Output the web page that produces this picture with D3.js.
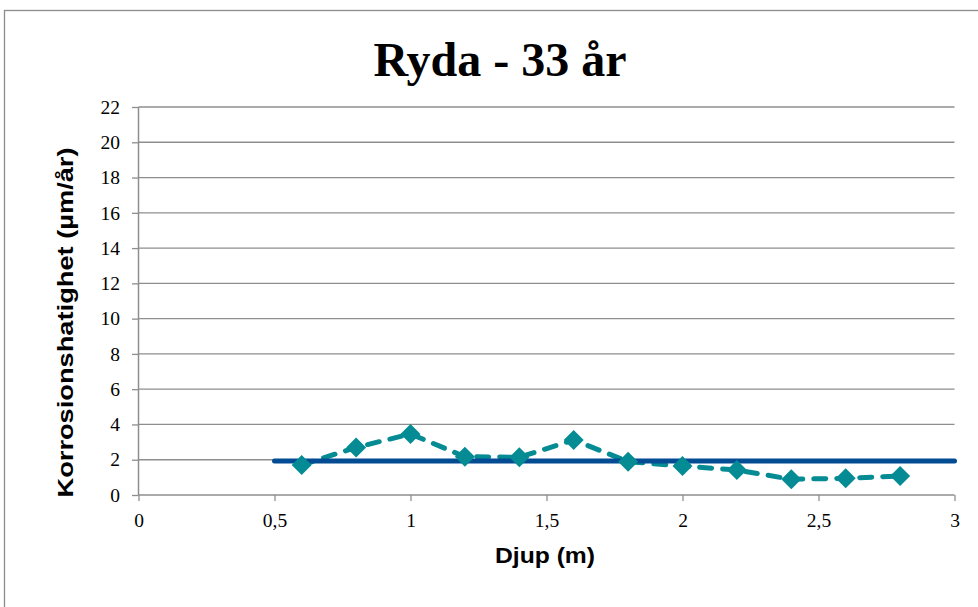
<!DOCTYPE html>
<html>
<head>
<meta charset="utf-8">
<script src="https://cdn.jsdelivr.net/npm/d3@7"></script>
<style>
  html, body { margin: 0; padding: 0; background: #fff; }
  svg { display: block; }
  .axis text { font-family: "Liberation Serif", "Times New Roman", serif; font-size: 19.5px; fill: #000; }
</style>
</head>
<body>
<svg id="chart" width="978" height="607"></svg>
<script>
// Corrosion rate per depth, Ryda site after 33 years
const depths = [0.6, 0.8, 1.0, 1.2, 1.4, 1.6, 1.8, 2.0, 2.2, 2.4, 2.6, 2.8];
const rates  = [1.70, 2.70, 3.46, 2.17, 2.14, 3.12, 1.89, 1.64, 1.42, 0.89, 0.95, 1.08];
const meanSpan = [0.5, 3];
const meanRate = d3.mean(rates);
const xTicks = [0, 0.5, 1, 1.5, 2, 2.5, 3];
const yTicks = [0, 2, 4, 6, 8, 10, 12, 14, 16, 18, 20, 22];
const titleText = "Ryda - 33 år";
const xTitle = "Djup (m)";
const yTitle = "Korrosionshatighet (µm/år)";

const svg = d3.select("#chart");
const plotL = 138.5, plotR = 954.5, plotT = 107, plotB = 495;
const serif = "'Liberation Serif', 'Times New Roman', serif";

const x = d3.scaleLinear().domain([0, 3]).range([plotL, plotR]);
const y = d3.scaleLinear().domain([0, 22]).range([plotB, plotT]);

// Chart area frame
svg.append("rect").attr("x", 4.5).attr("y", 10.5).attr("width", 1000).attr("height", 700)
  .attr("fill", "#fff").attr("stroke", "#8c8c8c").attr("stroke-width", 1.3);

// Title
svg.append("text").attr("x", 500).attr("y", 76).attr("text-anchor", "middle")
  .attr("font-family", serif)
  .attr("font-weight", "bold").attr("font-size", 48).attr("fill", "#000")
  .text(titleText);

// Horizontal gridlines
svg.append("g").selectAll("line").data(yTicks.filter(d => d > 0)).join("line")
  .attr("x1", plotL).attr("x2", plotR)
  .attr("y1", d => y(d)).attr("y2", d => y(d))
  .attr("stroke", "#8e8e8e").attr("stroke-width", 1.3);

// Y axis
const yAxis = svg.append("g").attr("class", "axis").attr("transform", `translate(${plotL},0)`)
  .call(d3.axisLeft(y).tickValues(yTicks).tickSize(6.5).tickPadding(12).tickFormat(d3.format("d")))
  .attr("font-family", serif).attr("font-size", 19.5);
yAxis.select(".domain").attr("stroke", "#8e8e8e").attr("stroke-width", 1.5).attr("d", `M0,${plotB}V${plotT}`);
yAxis.selectAll(".tick line").attr("stroke", "#8e8e8e").attr("stroke-width", 1.3);

// X axis
const fmtX = d => d3.format("")(d).replace(".", ",");
const xAxis = svg.append("g").attr("class", "axis").attr("transform", `translate(0,${plotB})`)
  .call(d3.axisBottom(x).tickValues(xTicks).tickSize(6).tickPadding(12).tickFormat(fmtX))
  .attr("font-family", serif).attr("font-size", 19.5);
xAxis.select(".domain").attr("stroke", "#8e8e8e").attr("stroke-width", 1.5).attr("d", `M${plotL},0H${plotR}`);
xAxis.selectAll(".tick line").attr("stroke", "#8e8e8e").attr("stroke-width", 1.3);

// Axis titles
svg.append("text").attr("x", 545).attr("y", 563).attr("text-anchor", "middle")
  .attr("font-family", "'Liberation Sans', Arial, sans-serif")
  .attr("font-weight", "bold").attr("font-size", 22).attr("fill", "#000")
  .attr("textLength", 100).attr("lengthAdjust", "spacingAndGlyphs")
  .text(xTitle);

svg.append("text").attr("transform", "translate(73,322.5) rotate(-90)")
  .attr("text-anchor", "middle")
  .attr("font-family", "'Liberation Sans', Arial, sans-serif")
  .attr("font-weight", "bold").attr("font-size", 22).attr("fill", "#000")
  .attr("textLength", 350).attr("lengthAdjust", "spacingAndGlyphs")
  .text(yTitle);

// Measured series: dashed line with diamond markers
const pts = depths.map((d, i) => [d, rates[i]]);
svg.append("path").datum(pts)
  .attr("d", d3.line().x(d => x(d[0])).y(d => y(d[1])))
  .attr("fill", "none").attr("stroke", "#058b93").attr("stroke-width", 5)
  .attr("stroke-dasharray", "12 11").attr("stroke-linecap", "round");

// Mean level across the sampled depths
svg.append("line")
  .attr("x1", x(meanSpan[0])).attr("x2", x(meanSpan[1]))
  .attr("y1", y(meanRate)).attr("y2", y(meanRate))
  .attr("stroke", "#034b93").attr("stroke-width", 5).attr("stroke-linecap", "round");

const r = 10;
svg.append("g").selectAll("path").data(pts).join("path")
  .attr("transform", d => `translate(${x(d[0])},${y(d[1])})`)
  .attr("d", `M0,${-r}L${r},0L0,${r}L${-r},0Z`)
  .attr("fill", "#058b93");
</script>
</body>
</html>
